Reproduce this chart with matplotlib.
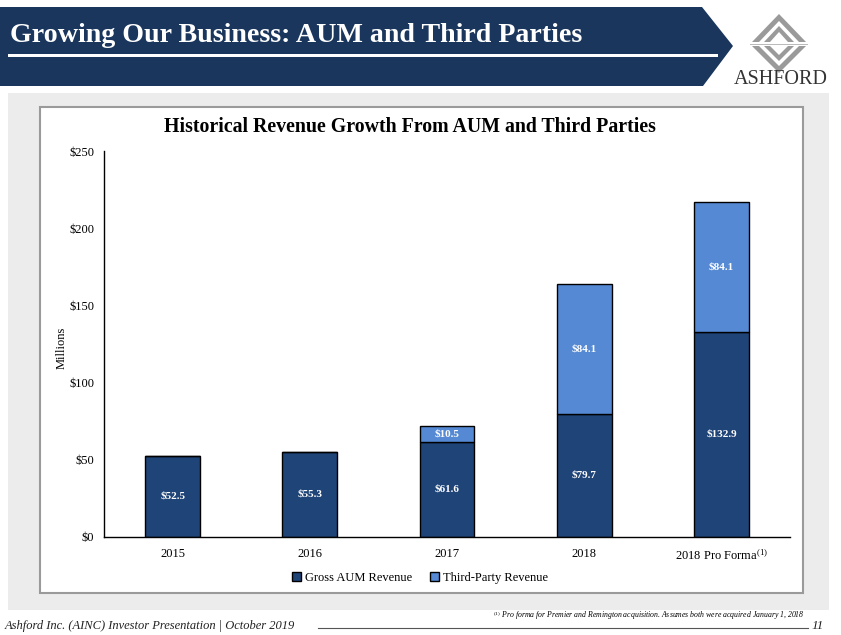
import matplotlib
matplotlib.use("Agg")
import matplotlib.pyplot as plt
from matplotlib.patches import Polygon, Rectangle
import numpy as np

categories = ["2015", "2016", "2017", "2018", "2018 Pro Forma$^{(1)}$"]
gross_aum = [52.5, 55.3, 61.6, 79.7, 132.9]
third_party = [0.0, 0.0, 10.5, 84.1, 84.1]
yticks = [0, 50, 100, 150, 200, 250]
ytick_labels = ["$0", "$50", "$100", "$150", "$200", "$250"]

DARK = "#1f4478"
LIGHT = "#5589d3"
NAVY = "#1a365d"
SERIF = ["Liberation Serif", "DejaVu Serif"]

plt.rcParams["font.family"] = SERIF
plt.rcParams["mathtext.fontset"] = "custom"
plt.rcParams["mathtext.rm"] = "Liberation Serif"
plt.rcParams["mathtext.it"] = "Liberation Serif:italic"

W, H = 841, 635
fig = plt.figure(figsize=(W / 100, H / 100), dpi=100)

def fx(x):
    return x / W

def fy(y):
    return 1 - y / H

# header band (arrow shape)
hdr = [(0, 7), (702, 7), (733, 46), (703, 86), (0, 86)]
fig.patches.append(Polygon([(fx(x), fy(y)) for x, y in hdr], closed=True,
                           transform=fig.transFigure, facecolor=NAVY, edgecolor="none"))
fig.patches.append(Rectangle((fx(8), fy(57)), fx(718 - 8), 3 / H, transform=fig.transFigure,
                             facecolor="white", edgecolor="none"))
fig.text(fx(10), fy(36), "Growing Our Business: AUM and Third Parties", color="white",
         fontsize=20.2, fontweight="bold", va="center", ha="left")

# logo
g = "#9a9a9a"
outer = [(779, 14), (806, 42), (799, 42), (779, 21), (759, 42), (752, 42)]
inner = [(779, 26), (794, 42), (788, 42), (779, 32), (770, 42), (764, 42)]
low = [(752, 46), (759, 46), (779, 66), (799, 46), (806, 46), (779, 73)]
low2 = [(764, 46), (770, 46), (779, 55), (788, 46), (794, 46), (779, 61)]
for poly in (outer, inner, low, low2):
    fig.patches.append(Polygon([(fx(x), fy(y)) for x, y in poly], closed=True,
                               transform=fig.transFigure, facecolor=g, edgecolor="none"))
fig.patches.append(Rectangle((fx(750), fy(45)), fx(58), 1.5 / H, transform=fig.transFigure,
                             facecolor="#bbbbbb", edgecolor="none"))
fig.text(fx(781), fy(79), "ASHFORD", color="#333333", fontsize=14.5, ha="center", va="center")

# gray panel and white box
fig.patches.append(Rectangle((fx(8), fy(610)), fx(829 - 8), (610 - 93) / H, transform=fig.transFigure,
                             facecolor="#ececec", edgecolor="none"))
fig.patches.append(Rectangle((fx(40), fy(593)), fx(803 - 40), (593 - 107) / H, transform=fig.transFigure,
                             facecolor="white", edgecolor="#9a9a9a", linewidth=1.5))

fig.text(fx(410), fy(127), "Historical Revenue Growth From AUM and Third Parties",
         fontsize=14.3, fontweight="bold", ha="center", va="center")

# axes
ax = fig.add_axes([fx(104), fy(537), fx(790 - 104), (537 - 151) / H])
ax.set_zorder(5)
ax.set_facecolor("none")
x = np.arange(len(categories))
width = 0.4
ax.bar(x, gross_aum, width, color=DARK, edgecolor="black", linewidth=1, label="Gross AUM Revenue")
ax.bar(x, third_party, width, bottom=gross_aum, color=LIGHT, edgecolor="black", linewidth=1,
       label="Third-Party Revenue")
for i in range(len(categories)):
    ax.text(x[i], gross_aum[i] / 2, f"${gross_aum[i]:.1f}", color="white", fontsize=8,
            fontweight="bold", ha="center", va="center")
    if third_party[i] > 0:
        ax.text(x[i], gross_aum[i] + third_party[i] / 2, f"${third_party[i]:.1f}", color="white",
                fontsize=8, fontweight="bold", ha="center", va="center")

ax.set_xlim(-0.5, len(categories) - 0.5)
ax.set_ylim(0, 250)
ax.set_yticks(yticks)
ax.set_yticklabels(ytick_labels, fontsize=9)
ax.set_xticks(x)
ax.set_xticklabels(categories, fontsize=9)
ax.tick_params(axis="both", length=0, pad=8)
ax.tick_params(axis="y", pad=7)
for s in ("top", "right"):
    ax.spines[s].set_visible(False)
for s in ("left", "bottom"):
    ax.spines[s].set_linewidth(1)
ax.set_ylabel("Millions", fontsize=9, labelpad=2)
ax.yaxis.set_label_coords(-0.053, 0.49)

leg = ax.legend(loc="upper center", bbox_to_anchor=((420 - 104) / 686, -0.062), ncol=2,
                frameon=False, fontsize=9, handlelength=0.7, handleheight=0.7,
                handletextpad=0.3, columnspacing=1.5)

# footer
fig.text(fx(805), fy(615), "$^{(1)}$ Pro forma for Premier and Remington acquisition. Assumes both were acquired January 1, 2018",
         fontsize=5.6, style="italic", ha="right", va="center")
fig.text(fx(5), fy(626), "Ashford Inc. (AINC) Investor Presentation | October 2019", fontsize=9.0,
         style="italic", ha="left", va="center", color="#222222")
fig.add_artist(plt.Line2D([fx(318), fx(808)], [fy(628), fy(628)], color="#555555", linewidth=0.8,
                          transform=fig.transFigure))
fig.text(fx(818), fy(626), "11", fontsize=9.5, style="italic", ha="center", va="center", color="#222222")

fig.savefig("out.png", dpi=100)
